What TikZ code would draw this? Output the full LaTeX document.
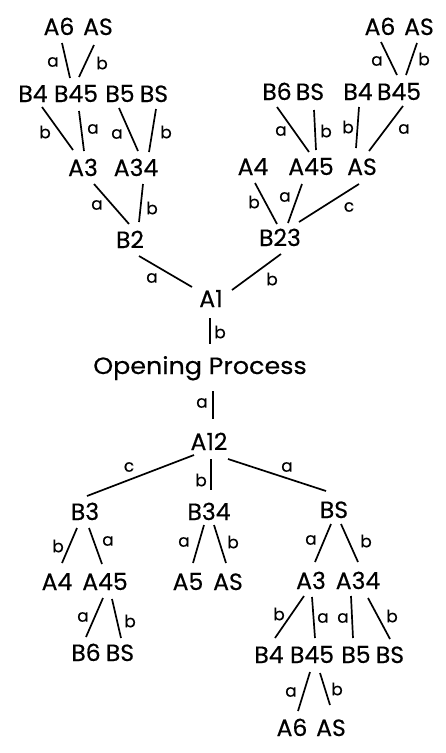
\documentclass[tikz,border=0pt]{standalone}
\usepackage{fontspec}
\setmainfont{Poppins}[FakeBold=0.4]
\newfontfamily\opfont{Poppins}[FakeStretch=1.08,FakeBold=0.4]
\begin{document}
\begin{tikzpicture}[x=1pt,y=-1pt,
  w/.style={inner sep=0pt, text height=16pt, text depth=0pt, font=\fontsize{23.5}{23.5}\selectfont},
  lab/.style={inner sep=0pt, font=\fontsize{17}{17}\selectfont},
  edge/.style={line width=1.7pt, black}]
\useasboundingbox[fill=white] (0,0) rectangle (445,753);
% ---- top left
\node[w] (tlA6) at (59,27) {A6};
\node[w] (tlAS) at (98,27) {AS};
\node[w] (tlB4) at (33,94) {B4};
\node[w] (tlB45) at (76,94) {B45};
\node[w] (tlB5) at (120,94) {B5};
\node[w] (tlBS) at (154,94) {BS};
\node[w] (tlA3) at (83,168) {A3};
\node[w] (tlA34) at (136,168) {A34};
\node[w] (B2) at (130,240) {B2};
% ---- top right
\node[w] (trA6) at (380,27) {A6};
\node[w] (trAS) at (419,27) {AS};
\node[w] (trB6) at (277,92) {B6};
\node[w] (trBS) at (310,92) {BS};
\node[w] (trB4) at (358,92) {B4};
\node[w] (trB45) at (399,92) {B45};
\node[w] (trA4) at (253,167) {A4};
\node[w] (trA45) at (311,167) {A45};
\node[w] (trAS2) at (362,167) {AS};
\node[w] (B23) at (280,238) {B23};
% ---- middle
\node[w] (A1) at (211,299) {A1};
\node[w, font=\opfont\fontsize{23.5}{23.5}\selectfont] (OP) at (200,366) {Opening Process};
\node[w] (A12) at (209,442) {A12};
% ---- bottom
\node[w] (B3) at (85,512) {B3};
\node[w] (B34) at (209,512) {B34};
\node[w] (BS) at (334,510) {BS};
\node[w] (A4) at (57,582) {A4};
\node[w] (A45) at (105,582) {A45};
\node[w] (A5) at (188,582) {A5};
\node[w] (AS) at (228,582) {AS};
\node[w] (A3) at (311,581) {A3};
\node[w] (A34) at (358,581) {A34};
\node[w] (B6) at (86,653) {B6};
\node[w] (BS2) at (120,653) {BS};
\node[w] (B4) at (269,655) {B4};
\node[w] (B45) at (312,655) {B45};
\node[w] (B5) at (356,655) {B5};
\node[w] (BS3) at (390,655) {BS};
\node[w] (A6) at (292,728) {A6};
\node[w] (AS3) at (331,728) {AS};
% ---- edges top left
\draw[edge] ([shift={(-6,-16)}]tlB45.center) -- ([shift={(3,16)}]tlA6.center);
\draw[edge] ([shift={(3,-17)}]tlB45.center) -- ([shift={(-4,18)}]tlAS.center);
\draw[edge] ([shift={(-10,-18)}]tlA3.center) -- ([shift={(9,13)}]tlB4.center);
\draw[edge] ([shift={(1,-17)}]tlA3.center) -- ([shift={(3,17)}]tlB45.center);
\draw[edge] ([shift={(2,-17)}]tlA34.center) -- ([shift={(-1,14)}]tlB5.center);
\draw[edge] ([shift={(13,-16)}]tlA34.center) -- ([shift={(2,15)}]tlBS.center);
\draw[edge] ([shift={(-1,-16)}]B2.center) -- ([shift={(11,16)}]tlA3.center);
\draw[edge] ([shift={(9,-18)}]B2.center) -- ([shift={(7,16)}]tlA34.center);
\draw[edge] ([shift={(-19,-12)}]A1.center) -- ([shift={(9,16)}]B2.center);
\draw[edge] ([shift={(21,-9)}]A1.center) -- ([shift={(1,16)}]B23.center);
% ---- edges top right
\draw[edge] ([shift={(-2,-17)}]trB45.center) -- ([shift={(1,15)}]trA6.center);
\draw[edge] ([shift={(7,-17)}]trB45.center) -- ([shift={(-2,16)}]trAS.center);
\draw[edge] ([shift={(-2,-15)}]trA45.center) -- ([shift={(0,15)}]trB6.center);
\draw[edge] ([shift={(5,-17)}]trA45.center) -- ([shift={(4,18)}]trBS.center);
\draw[edge] ([shift={(-6,-19)}]trAS2.center) -- ([shift={(1,15)}]trB4.center);
\draw[edge] ([shift={(7,-16)}]trAS2.center) -- ([shift={(4,14)}]trB45.center);
\draw[edge] ([shift={(-3,-14)}]B23.center) -- ([shift={(2,16)}]trA4.center);
\draw[edge] ([shift={(8,-15)}]B23.center) -- ([shift={(-9,17)}]trA45.center);
\draw[edge] ([shift={(19,-16)}]B23.center) -- ([shift={(-3,17)}]trAS2.center);
% ---- edges middle
\draw[edge] ([shift={(-1,19)}]A1.center) -- ([shift={(10,-22)}]OP.center);
\draw[edge] ([shift={(13,25)}]OP.center) -- ([shift={(4,-23)}]A12.center);
\draw[edge] ([shift={(-15,13)}]A12.center) -- ([shift={(2,-16)}]B3.center);
\draw[edge] ([shift={(2,17)}]A12.center) -- ([shift={(2,-22)}]B34.center);
\draw[edge] ([shift={(19,17)}]A12.center) -- ([shift={(-8,-19)}]BS.center);
% ---- edges bottom
\draw[edge] ([shift={(-8,16)}]B3.center) -- ([shift={(5,-19)}]A4.center);
\draw[edge] ([shift={(4,16)}]B3.center) -- ([shift={(-3,-18)}]A45.center);
\draw[edge] ([shift={(-5,13)}]B34.center) -- ([shift={(5,-19)}]A5.center);
\draw[edge] ([shift={(5,13)}]B34.center) -- ([shift={(-2,-19)}]AS.center);
\draw[edge] ([shift={(-3,14)}]BS.center) -- ([shift={(4,-19)}]A3.center);
\draw[edge] ([shift={(7,14)}]BS.center) -- ([shift={(0,-19)}]A34.center);
\draw[edge] ([shift={(-2,16)}]A45.center) -- ([shift={(0,-16)}]B6.center);
\draw[edge] ([shift={(7,17)}]A45.center) -- ([shift={(1,-15)}]BS2.center);
\draw[edge] ([shift={(-7,15)}]A3.center) -- ([shift={(6,-17)}]B4.center);
\draw[edge] ([shift={(1,16)}]A3.center) -- ([shift={(3,-17)}]B45.center);
\draw[edge] ([shift={(-7,15)}]A34.center) -- ([shift={(-3,-17)}]B5.center);
\draw[edge] ([shift={(10,17)}]A34.center) -- ([shift={(0,-16)}]BS3.center);
\draw[edge] ([shift={(-2,17)}]B45.center) -- ([shift={(6,-17)}]A6.center);
\draw[edge] ([shift={(8,18)}]B45.center) -- ([shift={(-1,-23)}]AS3.center);
% ---- labels
\node[lab] (l1) at (53,62) {a};
\node[lab] (l2) at (102,63) {b};
\node[lab] (l3) at (45,132) {b};
\node[lab] (l4) at (93,129) {a};
\node[lab] (l5) at (117,134) {a};
\node[lab] (l6) at (166,132) {b};
\node[lab] (l7) at (97,205) {a};
\node[lab] (l8) at (152,208) {b};
\node[lab] (l9) at (152,278) {a};
\node[lab] (l10) at (272,279) {b};
\node[lab] (l11) at (377,61) {a};
\node[lab] (l12) at (424,59) {b};
\node[lab] (l13) at (281,131) {a};
\node[lab] (l14) at (326,131) {b};
\node[lab] (l15) at (348,127) {b};
\node[lab] (l16) at (404,129) {a};
\node[lab] (l17) at (254,202) {b};
\node[lab] (l18) at (285,197) {a};
\node[lab] (l19) at (349,207) {c};
\node[lab] (l20) at (220,332) {b};
\node[lab] (l21) at (202,403) {a};
\node[lab] (l22) at (129,467) {c};
\node[lab] (l23) at (201,480) {b};
\node[lab] (l24) at (287,467) {a};
\node[lab] (l25) at (58,546) {b};
\node[lab] (l26) at (108,541) {a};
\node[lab] (l27) at (184,542) {a};
\node[lab] (l28) at (233,542) {b};
\node[lab] (l29) at (311,540) {a};
\node[lab] (l30) at (366,541) {b};
\node[lab] (l31) at (83,617) {a};
\node[lab] (l32) at (130,621) {b};
\node[lab] (l33) at (279,614) {b};
\node[lab] (l34) at (323,618) {a};
\node[lab] (l35) at (343,618) {a};
\node[lab] (l36) at (392,616) {b};
\node[lab] (l37) at (291,692) {a};
\node[lab] (l38) at (337,689) {b};
\end{tikzpicture}
\end{document}
